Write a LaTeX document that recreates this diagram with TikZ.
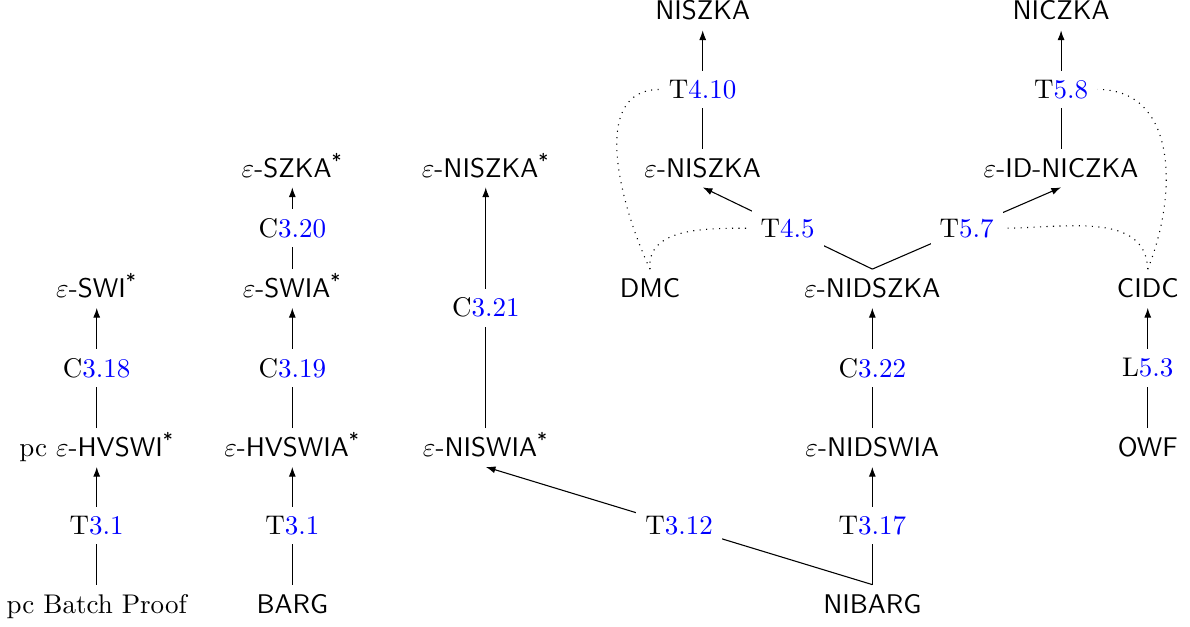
\documentclass[tikz,border=0pt]{standalone}
\usetikzlibrary{arrows.meta}

\tikzset{
  prob/.style={anchor=base, font=\sffamily, text height=7pt, text depth=.3pt},
  lem/.style={fill=white, midway},
  impl/.style={-{Latex[length=3.6pt,width=2.6pt]}},
  uses/.style={dotted},
}
\newcommand{\lnk}[2]{#1\textcolor{blue}{#2}}
\newcommand{\st}{\textsuperscript{*}}

\begin{document}
\begin{tikzpicture}
\def\xa{1.259};
\def\xb{3.805};
\def\xc{6.323};
\def\xd{8.461};
\def\xe{9.147};
\def\xf{11.355};
\def\xg{13.812};
\def\xh{14.940};

\def\ya{0.169};
\def\yb{2.206};
\def\yc{4.276};
\def\yd{5.845};
\def\ye{7.889};

\useasboundingbox (0,0) rectangle (15.49,8.149);

\node[prob] (batch) at (\xa,\ya) {\rmfamily pc Batch Proof};
\node[prob] (hvswi) at (\xa,\yb) {{\rmfamily pc} $\varepsilon$-HVSWI\st};
\node[prob] (swi) at (\xa,\yc) {$\varepsilon$-SWI\st};

\node[prob] (barg) at (\xb,\ya) {BARG};
\node[prob] (hvswia) at (\xb,\yb) {$\varepsilon$-HVSWIA\st};
\node[prob] (swia) at (\xb,\yc) {$\varepsilon$-SWIA\st};
\node[prob] (szka) at (\xb,\yd) {$\varepsilon$-SZKA\st};

\node[prob] (niswia) at (\xc,\yb) {$\varepsilon$-NISWIA\st};
\node[prob] (niszkas) at (\xc,\yd) {$\varepsilon$-NISZKA\st};

\node[prob] (dmc) at (\xd,\yc) {DMC};
\node[prob] (eniszka) at (\xe,\yd) {$\varepsilon$-NISZKA};
\node[prob] (niszka) at (\xe,\ye) {NISZKA};

\node[prob] (nibarg) at (\xf,\ya) {NIBARG};
\node[prob] (nidswia) at (\xf,\yb) {$\varepsilon$-NIDSWIA};
\node[prob] (nidszka) at (\xf,\yc) {$\varepsilon$-NIDSZKA};

\node[prob] (idniczka) at (\xg,\yd) {$\varepsilon$-ID-NICZKA};
\node[prob] (niczka) at (\xg,\ye) {NICZKA};

\node[prob] (owf) at (\xh,\yb) {OWF};
\node[prob] (cidc) at (\xh,\yc) {CIDC};

% implications
\draw[impl] (batch.north) -- node[lem] (t31a) {\lnk{T}{3.1}} (hvswi.south);
\draw[impl] (hvswi.north) -- node[lem] (c318) {\lnk{C}{3.18}} (swi.south);
\draw[impl] (barg.north) -- node[lem] (t31b) {\lnk{T}{3.1}} (hvswia.south);
\draw[impl] (hvswia.north) -- node[lem] (c319) {\lnk{C}{3.19}} (swia.south);
\draw[impl] (swia.north) -- node[lem] (c320) {\lnk{C}{3.20}} (szka.south);
\draw[impl] (niswia.north) -- node[lem] (c321) {\lnk{C}{3.21}} (niszkas.south);
\draw[impl] (nibarg.north) -- node[lem] (t312) {\lnk{T}{3.12}} (niswia.south);
\draw[impl] (nibarg.north) -- node[lem] (t317) {\lnk{T}{3.17}} (nidswia.south);
\draw[impl] (nidswia.north) -- node[lem] (c322) {\lnk{C}{3.22}} (nidszka.south);
\draw[impl] (nidszka.north) -- node[lem] (t45) {\lnk{T}{4.5}} (eniszka.south);
\draw[impl] (nidszka.north) -- node[lem] (t57) {\lnk{T}{5.7}} (idniczka.south);
\draw[impl] (eniszka.north) -- node[lem] (t410) {\lnk{T}{4.10}} (niszka.south);
\draw[impl] (idniczka.north) -- node[lem] (t58) {\lnk{T}{5.8}} (niczka.south);
\draw[impl] (owf.north) -- node[lem] (l53) {\lnk{L}{5.3}} (cidc.south);

% assumptions used
\draw[uses] (dmc.north) to[out=115, in=180] (t410.west);
\draw[uses] (dmc.north) to[out=95, in=180] (t45.west);
\draw[uses] (cidc.north) to[out=68, in=0, looseness=1.1] (t58.east);
\draw[uses] (cidc.north) to[out=92, in=0] (t57.east);

\end{tikzpicture}
\end{document}
